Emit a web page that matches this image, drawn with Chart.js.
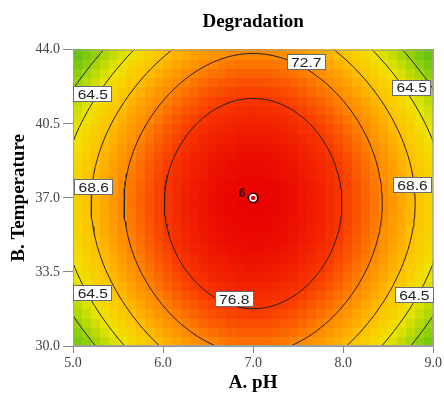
<!DOCTYPE html>
<html>
<head>
<meta charset="utf-8">
<script src="https://cdn.jsdelivr.net/npm/chart.js@4.4.1/dist/chart.umd.min.js"></script>
<style>
  html, body { margin: 0; padding: 0; background: #fff; }
  canvas { display: block; }
</style>
</head>
<body>
<canvas id="contour" width="444" height="397"></canvas>
<script>
const phTicks = [5.0, 6.0, 7.0, 8.0, 9.0];
const tempTicks = [30.0, 33.5, 37.0, 40.5, 44.0];
const contourLevels = [60.4, 64.5, 68.6, 72.7, 76.8];

// fitted response in coded units: A = (pH - 7) / 2, B = (T - 37) / 7
const modelTerms = ['Intercept', 'B', 'A^2', 'B^2', 'A^2B^2', 'A^4'];
const modelCoefs = [80.74, -0.6, -16.8, -7.84, -2.0, 2.2];

// contour labels as they sit on the plot
const labelLevels = [72.7, 64.5, 64.5, 68.6, 68.6, 64.5, 64.5, 76.8];
const labelPH = [7.59, 5.22, 8.76, 5.23, 8.77, 5.22, 8.79, 6.79];
const labelTemp = [43.4, 41.9, 42.2, 37.5, 37.6, 32.5, 32.4, 32.2];

// design points (centre point with replicate count)
const designPH = [7.0];
const designTemp = [37.0];
const designRuns = [6];

// colour ramp of the response
const colorValues = [55, 60, 64.5, 68.6, 72.7, 76.8, 81];
const colorRGB = [[70, 185, 30], [150, 210, 10], [238, 228, 0], [255, 192, 0], [255, 135, 0], [248, 55, 0], [232, 0, 0]];

const gridCols = 40, gridRows = 32;

function response(ph, temp) {
  const a = (ph - 7) / 2, b = (temp - 37) / 7;
  const term = { 'Intercept': 1, 'B': b, 'A^2': a * a, 'B^2': b * b, 'A^2B^2': a * a * b * b, 'A^4': a ** 4 };
  return modelTerms.reduce((s, t, k) => s + modelCoefs[k] * term[t], 0);
}

function colorFor(v) {
  if (v <= colorValues[0]) return `rgb(${colorRGB[0]})`;
  for (let k = 1; k < colorValues.length; k++) {
    if (v <= colorValues[k]) {
      const f = (v - colorValues[k - 1]) / (colorValues[k] - colorValues[k - 1]);
      const c = colorRGB[k - 1].map((c0, n) => Math.round(c0 + f * (colorRGB[k][n] - c0)));
      return `rgb(${c})`;
    }
  }
  return `rgb(${colorRGB[colorRGB.length - 1]})`;
}

// peak of the surface along B
const peakT = 37 + 7 * (-modelCoefs[1] / (2 * modelCoefs[3]));

// trace one level of the surface by searching outward from the peak
function isoline(level) {
  const pts = [];
  for (let k = 0; k <= 360; k += 2) {
    const th = k * Math.PI / 180, c = Math.cos(th), s = Math.sin(th);
    let lo = 0, hi = 1.6;
    for (let it = 0; it < 40; it++) {
      const r = (lo + hi) / 2;
      if (response(7 + 2 * r * c, peakT + 7 * r * s) > level) lo = r; else hi = r;
    }
    pts.push({ x: 7 + 2 * lo * c, y: peakT + 7 * lo * s });
  }
  return pts;
}

const surfacePlugin = {
  id: 'surface',
  beforeDatasetsDraw(chart) {
    const { ctx, scales: { x, y } } = chart;
    const dx = (x.max - x.min) / gridCols, dy = (y.max - y.min) / gridRows;
    ctx.save();
    for (let i = 0; i < gridCols; i++) {
      for (let j = 0; j < gridRows; j++) {
        const p0 = x.min + i * dx, t0 = y.min + j * dy;
        const px0 = Math.floor(x.getPixelForValue(p0)), px1 = Math.ceil(x.getPixelForValue(p0 + dx));
        const py0 = Math.floor(y.getPixelForValue(t0 + dy)), py1 = Math.ceil(y.getPixelForValue(t0));
        ctx.fillStyle = colorFor(response(p0 + dx / 2, t0 + dy / 2));
        ctx.fillRect(px0, py0, px1 - px0, py1 - py0);
      }
    }
    ctx.restore();
  },
  afterDatasetsDraw(chart) {
    const { ctx, chartArea: a, scales: { x, y } } = chart;
    ctx.save();
    ctx.strokeStyle = '#a3a391';
    ctx.lineWidth = 1;
    ctx.strokeRect(a.left + 0.5, a.top + 0.5, a.right - a.left - 1, a.bottom - a.top - 1);

    // contour labels
    ctx.font = '13px "Liberation Sans", Arial, sans-serif';
    ctx.textAlign = 'center';
    ctx.textBaseline = 'middle';
    labelLevels.forEach((lv, k) => {
      const cx = x.getPixelForValue(labelPH[k]), cy = y.getPixelForValue(labelTemp[k]);
      const w = 39, h = 16;
      ctx.fillStyle = '#fff';
      ctx.fillRect(Math.round(cx - w / 2), Math.round(cy - h / 2), w, h);
      ctx.strokeStyle = '#6a6a6a';
      ctx.strokeRect(Math.round(cx - w / 2) + 0.5, Math.round(cy - h / 2) + 0.5, w - 1, h - 1);
      ctx.fillStyle = '#222';
      ctx.save();
      ctx.translate(cx, cy + 1);
      ctx.scale(1.2, 1);
      ctx.fillText(lv.toFixed(1), 0, 0);
      ctx.restore();
    });

    // replicate count next to the design point
    ctx.font = 'bold 12px "Liberation Sans", Arial, sans-serif';
    ctx.fillStyle = '#3a0000';
    designRuns.forEach((n, k) => {
      ctx.fillText(String(n), x.getPixelForValue(designPH[k]) - 11, y.getPixelForValue(designTemp[k]) - 4);
    });
    ctx.restore();
  }
};

const lineSets = contourLevels.map(lv => ({
  label: String(lv),
  data: isoline(lv),
  showLine: true,
  borderColor: '#262015',
  borderWidth: 1,
  pointRadius: 0,
  tension: 0,
  clip: 0,
  order: 3
}));

const pointSets = [
  {
    label: 'design',
    data: designPH.map((p, k) => ({ x: p, y: designTemp[k] })),
    pointRadius: 3,
    backgroundColor: '#e00000',
    borderColor: '#ffffff',
    borderWidth: 1.6,
    order: 1
  },
  {
    label: 'design-outer',
    data: designPH.map((p, k) => ({ x: p, y: designTemp[k] })),
    pointRadius: 5.5,
    backgroundColor: '#3a0000',
    borderWidth: 0,
    order: 2
  }
];

const serif = '"Liberation Serif", "Times New Roman", serif';

new Chart(document.getElementById('contour'), {
  type: 'scatter',
  data: { datasets: [...pointSets, ...lineSets] },
  plugins: [surfacePlugin],
  options: {
    responsive: false,
    devicePixelRatio: 1,
    animation: false,
    layout: { padding: { left: 0, right: 9, top: 0, bottom: 0 } },
    plugins: {
      legend: { display: false },
      tooltip: { enabled: false },
      title: {
        display: true,
        text: 'Degradation',
        fullSize: false,
        color: '#000',
        font: { family: serif, size: 19, weight: 'bold' },
        padding: { top: 11, bottom: 16 }
      }
    },
    scales: {
      x: {
        type: 'linear',
        min: phTicks[0],
        max: phTicks[phTicks.length - 1],
        afterBuildTicks: s => { s.ticks = phTicks.map(v => ({ value: v })); },
        afterFit: s => { s.height = 51; },
        ticks: {
          color: '#444',
          font: { family: serif, size: 14 },
          padding: 2,
          callback: v => v.toFixed(1)
        },
        grid: { drawOnChartArea: false, drawTicks: true, tickLength: 7, tickColor: '#888' },
        border: { display: true, color: '#999' },
        title: {
          display: true,
          text: 'A. pH',
          color: '#000',
          font: { family: serif, size: 19, weight: 'bold' },
          padding: { top: 0, bottom: 3 }
        }
      },
      y: {
        type: 'linear',
        min: tempTicks[0],
        max: tempTicks[tempTicks.length - 1],
        afterBuildTicks: s => { s.ticks = tempTicks.map(v => ({ value: v })); },
        afterFit: s => { s.width = 73; },
        ticks: {
          color: '#444',
          font: { family: serif, size: 14 },
          padding: 3,
          callback: v => v.toFixed(1)
        },
        grid: { drawOnChartArea: false, drawTicks: true, tickLength: 10, tickColor: '#888' },
        border: { display: true, color: '#999' },
        title: {
          display: true,
          text: 'B. Temperature',
          color: '#000',
          font: { family: serif, size: 19, weight: 'bold' },
          padding: { top: 8, bottom: 0 }
        }
      }
    }
  }
});
</script>
</body>
</html>
